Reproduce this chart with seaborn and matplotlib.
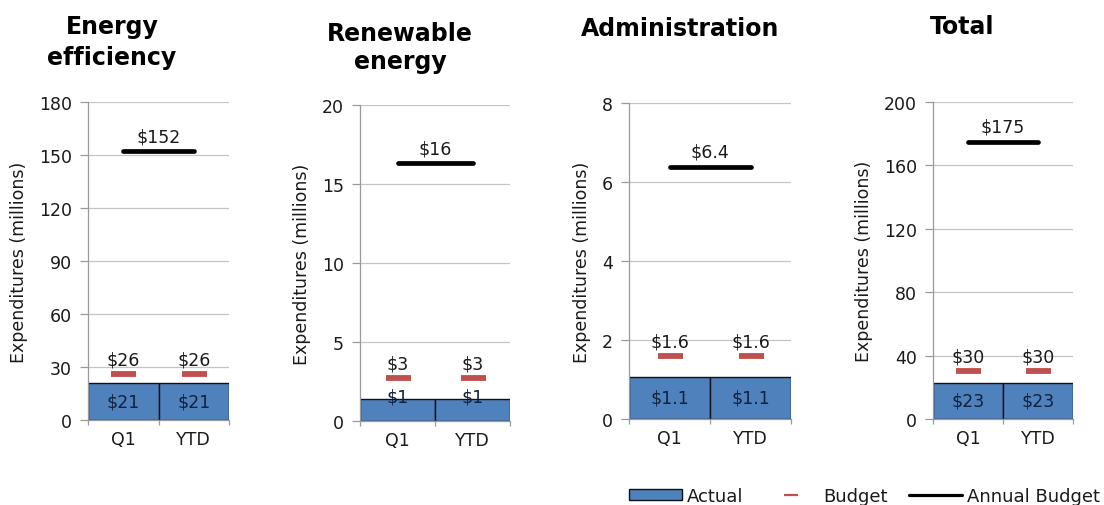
import numpy as np
import matplotlib
matplotlib.use("Agg")
import matplotlib.pyplot as plt
from matplotlib.patches import Patch
from matplotlib.lines import Line2D
import seaborn as sns

# ---- data (millions of dollars) ----
periods = ["Q1", "YTD"]
panel_titles = ["Energy\nefficiency", "Renewable\nenergy", "Administration", "Total"]

actual_ee = [21, 21]
budget_ee = [26, 26]
annual_ee = 152

actual_re = [1.4, 1.4]
budget_re = [2.7, 2.7]
annual_re = 16.3

actual_ad = [1.07, 1.07]
budget_ad = [1.6, 1.6]
annual_ad = 6.37

actual_tot = [23, 23]
budget_tot = [30, 30]
annual_tot = 175

y_max = [180, 20, 8, 200]
y_step = [30, 5, 2, 40]
label_decimals = [0, 0, 1, 0]

actuals = [actual_ee, actual_re, actual_ad, actual_tot]
budgets = [budget_ee, budget_re, budget_ad, budget_tot]
annuals = [annual_ee, annual_re, annual_ad, annual_tot]

# ---- style ----
BLUE = "#4f81bd"
RED = "#c0504d"
GRID = "#c4c4c4"
SPINE = "#9a9a9a"
TEXT = "#1a1a1a"

sns.set_theme(style="white")
plt.rcParams["font.family"] = ["DejaVu Sans"]
plt.rcParams["text.color"] = TEXT

W, H = 1104, 506
fig = plt.figure(figsize=(W / 100, H / 100), dpi=100)

# axes boxes in pixels: left, right, top, bottom
boxes = [(88, 229, 103, 421), (360, 510, 106, 422), (629, 791, 104, 420), (933, 1073, 103, 420)]
title_pos = [(112, 15), (400, 22), (680, 17), (962, 15)]
title_spacing = [1.38, 1.2, 1.2, 1.2]


def fmt(v, d):
    return f"${v:.{d}f}"


for i in range(4):
    l, r, t, b = boxes[i]
    ax = fig.add_axes([l / W, 1 - b / H, (r - l) / W, (b - t) / H])
    pos = np.arange(len(periods))

    sns.barplot(x=periods, y=actuals[i], width=1.0, color=BLUE, saturation=1,
                edgecolor="#111111", linewidth=1.0, ax=ax, zorder=2)

    # quarterly / year-to-date budget markers
    ax.plot(pos, budgets[i], ls="none", marker="_", ms=18, mew=4.2,
            color=RED, zorder=3)

    # annual budget line
    sns.lineplot(x=pos, y=[annuals[i]] * len(pos), color="black", lw=3.4,
                 ax=ax, zorder=4, solid_capstyle="round")

    ax.set_xlim(-0.5, len(periods) - 0.5)
    ax.set_ylim(0, y_max[i])
    ax.set_yticks(np.arange(0, y_max[i] + 0.001, y_step[i]))
    ax.set_xticks(np.arange(-0.5, len(periods), 1.0), minor=True)
    ax.set_xticks(pos)
    ax.set_xticklabels(periods)
    ax.set_xlabel("")
    ax.set_ylabel("Expenditures (millions)", fontsize=12.5, color=TEXT, labelpad=8)

    ax.grid(axis="y", color=GRID, lw=0.9)
    ax.set_axisbelow(True)
    for s in ["top", "right"]:
        ax.spines[s].set_visible(False)
    for s in ["left", "bottom"]:
        ax.spines[s].set_color(SPINE)
        ax.spines[s].set_linewidth(0.9)

    ax.tick_params(axis="y", which="major", length=5.5, width=0.9, color=SPINE,
                   labelsize=12.5, labelcolor=TEXT, pad=6, left=True)
    ax.tick_params(axis="x", which="major", length=0, labelsize=12.5,
                   labelcolor=TEXT, pad=7)
    ax.tick_params(axis="x", which="minor", length=3.5, width=0.9, color=SPINE,
                   bottom=True)

    d = label_decimals[i]
    ax_h_px = b - t
    for x, a, bud in zip(pos, actuals[i], budgets[i]):
        bar_px = a / y_max[i] * ax_h_px
        off = -bar_px / 2 * 72 / 100 if bar_px > 28 else 1.5
        ax.annotate(fmt(a, d), (x, a), xytext=(0, off), textcoords="offset points",
                    ha="center", va="center", fontsize=12.5, color="#10223d", zorder=5)
        ax.annotate(fmt(bud, d), (x, bud), xytext=(0, 7), textcoords="offset points",
                    ha="center", va="baseline", fontsize=12.5, color=TEXT, zorder=5)
    ax.annotate(fmt(annuals[i], d), (pos.mean(), annuals[i]), xytext=(0, 7.5),
                textcoords="offset points", ha="center", va="baseline",
                fontsize=12.5, color=TEXT, zorder=5)

    tx, ty = title_pos[i]
    fig.text(tx / W, 1 - ty / H, panel_titles[i], ha="center", va="top",
             multialignment="center", fontsize=17, fontweight="bold",
             linespacing=title_spacing[i], color="black")

handles = [
    Patch(facecolor=BLUE, edgecolor="#111111", linewidth=1.0),
    Line2D([], [], ls="none", marker="_", ms=10, mew=1.6, color=RED),
    Line2D([], [], color="black", lw=2.3),
]
fig.legend(handles, ["Actual", "Budget", "Annual Budget"], ncol=3,
           loc="center right", bbox_to_anchor=(1100 / W, 1 - 497 / H),
           frameon=False, fontsize=13, handlelength=2.9, handleheight=0.55,
           handletextpad=0.3, columnspacing=1.2, borderpad=0, borderaxespad=0)

fig.savefig("out.png", dpi=100)
